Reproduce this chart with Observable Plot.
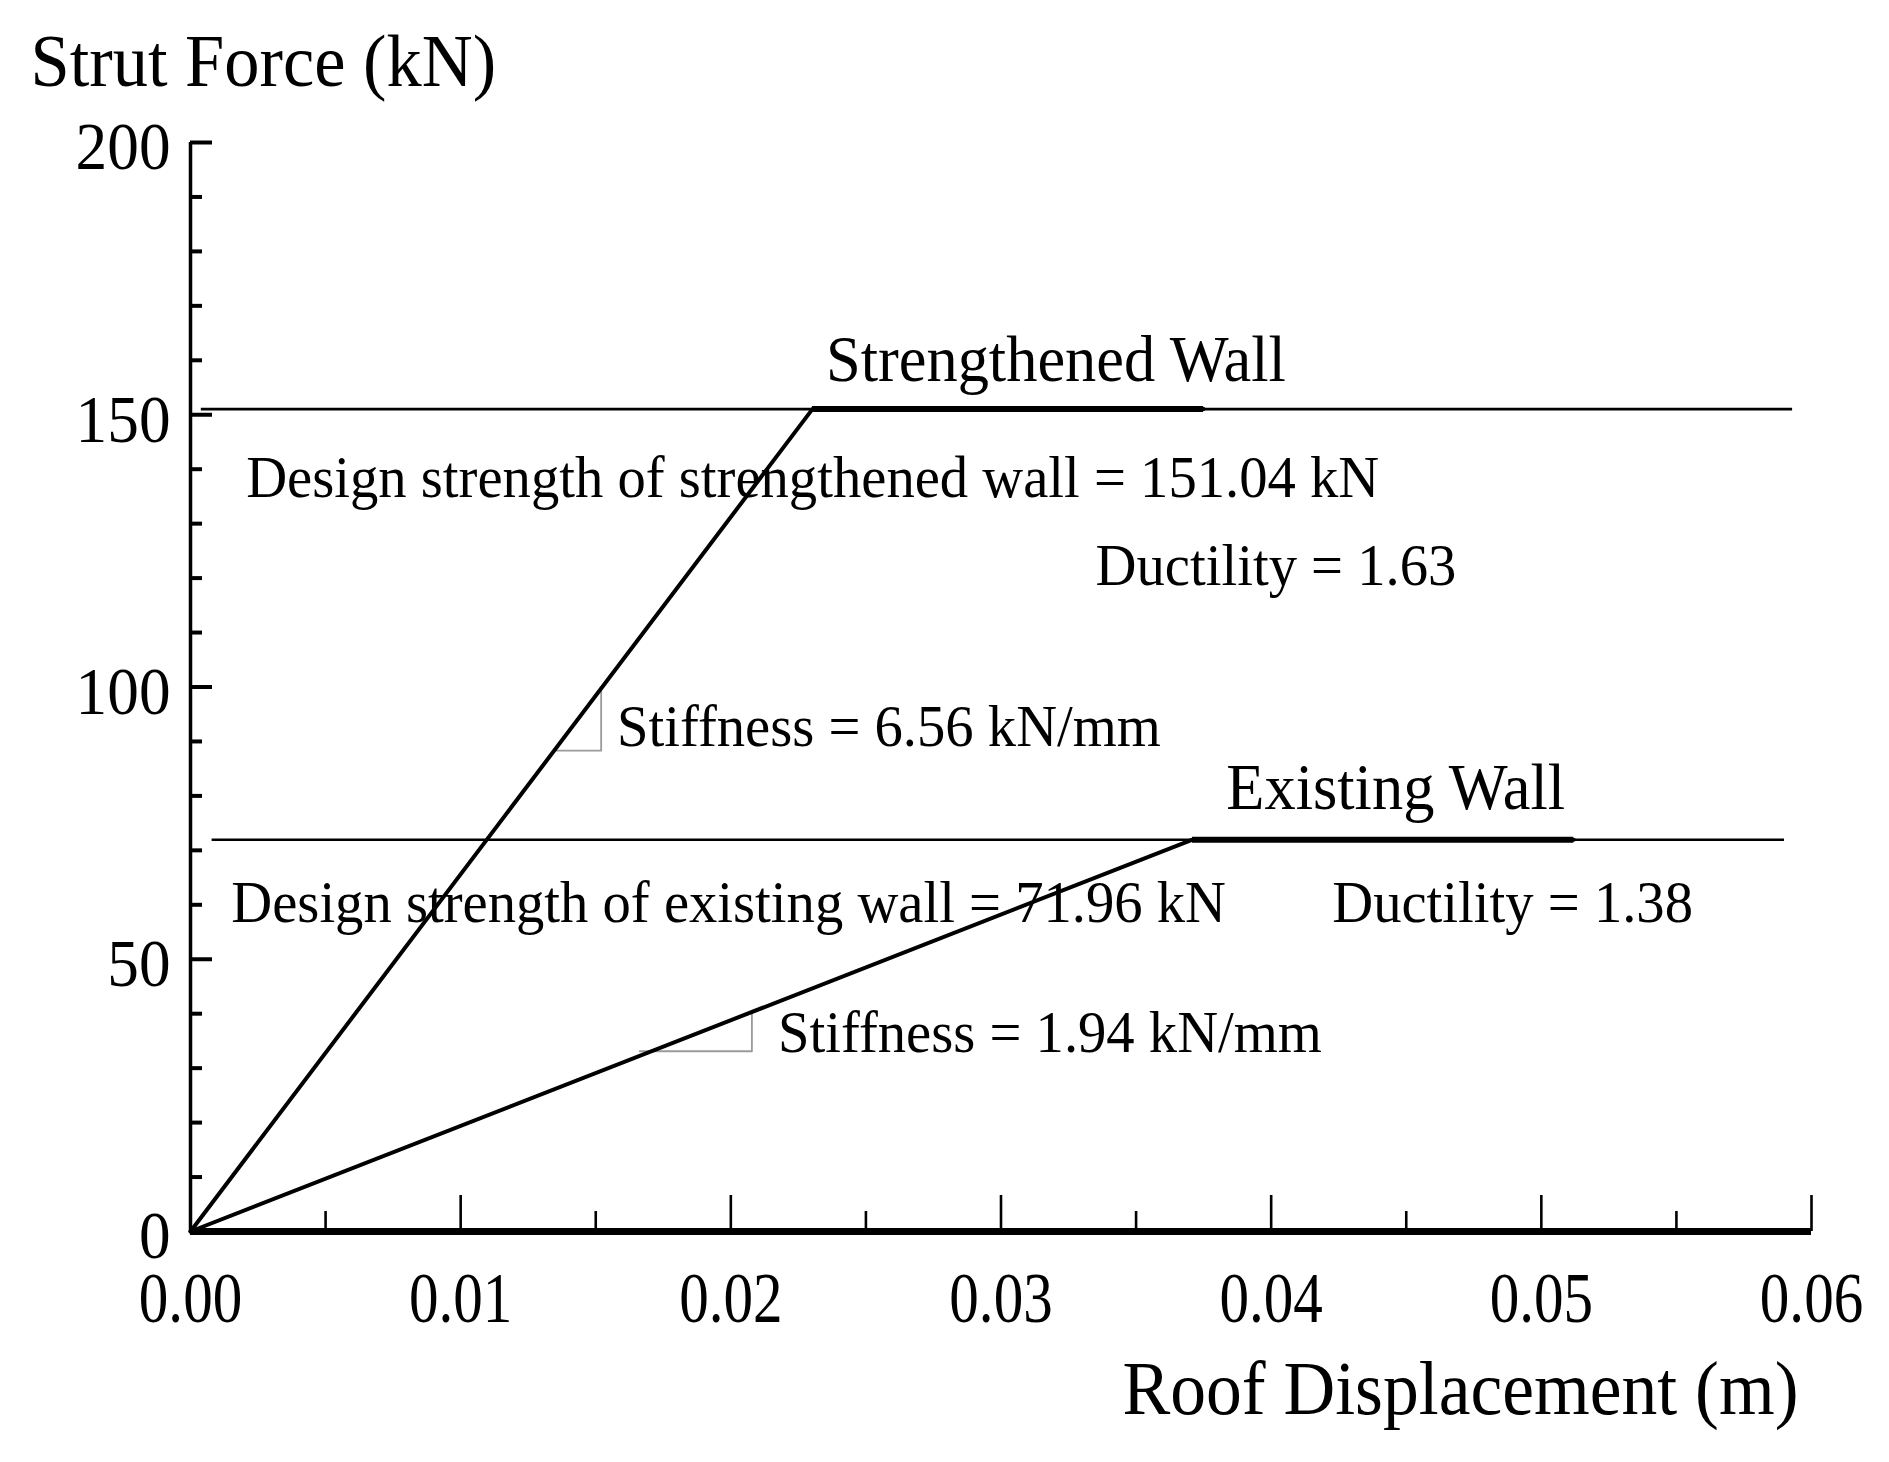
<!DOCTYPE html>
<html>
<head>
<meta charset="utf-8">
<script src="https://cdn.jsdelivr.net/npm/d3@7"></script>
<script src="https://cdn.jsdelivr.net/npm/@observablehq/plot@0.6"></script>
<style>
  html, body { margin: 0; padding: 0; background: #fff; }
  svg { display: block; }
</style>
</head>
<body>
<div id="chart"></div>
<script>
// ---- data ----
const xMajor = [0, 0.01, 0.02, 0.03, 0.04, 0.05, 0.06];
const xMinor = [0.005, 0.015, 0.025, 0.035, 0.045, 0.055];
const yMajor = [0, 50, 100, 150, 200];
const yMinor = [10, 20, 30, 40, 60, 70, 80, 90, 110, 120, 130, 140, 160, 170, 180, 190];

// capacity curves: [displacement (m), force (kN)]
const strengthenedX = [0, 0.02302, 0.0375];
const strengthenedY = [0, 151.04, 151.04];
const existingX = [0, 0.03709, 0.0512];
const existingY = [0, 71.96, 71.96];

// design strength lines
const designLevels = [151.04, 71.96];
const designX1 = [0.0004, 0.0008];
const designX2 = [0.0593, 0.0590];

// slope markers (legs of the right-angle triangles)
const markStrX = [0.01346, 0.0152, 0.0152];
const markStrY = [88.3, 88.3, 99.7];
const markExiX = [0.01663, 0.02078, 0.02078];
const markExiY = [33.1, 33.1, 40.3];

// annotations
const annText = [
  "Strengthened Wall",
  "Design strength of strengthened wall = 151.04 kN",
  "Ductility = 1.63",
  "Stiffness = 6.56 kN/mm",
  "Existing Wall",
  "Design strength of existing wall = 71.96 kN",
  "Ductility = 1.38",
  "Stiffness = 1.94 kN/mm"
];
const annX = [0.02352, 0.00206, 0.0335, 0.01579, 0.03834, 0.00151, 0.04226, 0.02175];
const annY = [160.0, 138.3, 122.2, 92.65, 81.5, 60.4, 60.4, 36.5];
const annSize = [65, 59, 59, 59, 65, 59, 59, 59];

// ---- build tables ----
const zip = (xs, ys) => xs.map((x, i) => ({x, y: ys[i]}));
const strengthened = zip(strengthenedX, strengthenedY);
const existing = zip(existingX, existingY);
const plateaus = [
  {x1: strengthenedX[1], x2: strengthenedX[2], y: strengthenedY[1]},
  {x1: existingX[1], x2: existingX[2], y: existingY[1]}
];
const designLines = designLevels.map((y, i) => ({y, x1: designX1[i], x2: designX2[i]}));
const annotations = annText.map((t, i) => ({t, x: annX[i], y: annY[i], s: annSize[i]}));

const W = 1889, H = 1462;
const mL = 190, mR = 78, mT = 142, mB = 231;
const frameW = W - mL - mR, frameH = H - mT - mB;
const font = "'Liberation Serif', 'Times New Roman', serif";

// horizontal condensing per text group (the reference uses a narrow Times)
const condense = {xlab: 0.82, ylab: 0.93, ytitle: 0.965, xtitle: 0.93, ann: 0.96};

const chart = Plot.plot({
  width: W,
  height: H,
  marginLeft: mL,
  marginRight: mR,
  marginTop: mT,
  marginBottom: mB,
  x: {domain: [0, 0.06], axis: null},
  y: {domain: [0, 200], axis: null},
  style: {fontFamily: font, background: "#fff", color: "#000"},
  marks: [
    // design strength lines
    Plot.ruleY(designLines, {y: "y", x1: "x1", x2: "x2", stroke: "#000", strokeWidth: 2.6}),
    // slope markers
    Plot.line(zip(markStrX, markStrY), {x: "x", y: "y", stroke: "#9a9a9a", strokeWidth: 1.8}),
    Plot.line(zip(markExiX, markExiY), {x: "x", y: "y", stroke: "#9a9a9a", strokeWidth: 1.8}),
    // curves
    Plot.line(strengthened, {x: "x", y: "y", stroke: "#000", strokeWidth: 4}),
    Plot.line(existing, {x: "x", y: "y", stroke: "#000", strokeWidth: 4}),
    Plot.ruleY(plateaus, {y: "y", x1: "x1", x2: "x2", stroke: "#000", strokeWidth: 6}),
    // axes lines
    Plot.ruleX([0], {y1: 0, y2: 200, stroke: "#000", strokeWidth: 3.5}),
    Plot.ruleY([0], {x1: 0, x2: 0.06, stroke: "#000", strokeWidth: 7}),
    // x ticks (pointing up)
    Plot.ruleX(xMajor, {x: d => d, insetTop: frameH - 36, stroke: "#000", strokeWidth: 2.6}),
    Plot.ruleX(xMinor, {x: d => d, insetTop: frameH - 20, stroke: "#000", strokeWidth: 2.6}),
    // y ticks (pointing right)
    Plot.ruleY(yMajor, {y: d => d, insetRight: frameW - 22, stroke: "#000", strokeWidth: 4}),
    Plot.ruleY(yMinor, {y: d => d, insetRight: frameW - 12, stroke: "#000", strokeWidth: 4}),
    // tick labels
    Plot.text(xMajor, {x: d => d, frameAnchor: "bottom", lineAnchor: "middle", dy: 67, text: d => d.toFixed(2), fontSize: 72, fill: "#000", ariaDescription: "xlab"}),
    Plot.text(yMajor, {y: d => d, frameAnchor: "left", lineAnchor: "middle", dx: -20, dy: 5, textAnchor: "end", text: d => String(d), fontSize: 68, fill: "#000", ariaDescription: "ylab"}),
    // axis titles
    Plot.text(["Strut Force (kN)"], {frameAnchor: "top-left", lineAnchor: "middle", dx: -160, dy: -80, textAnchor: "start", text: d => d, fontSize: 73, fill: "#000", ariaDescription: "ytitle"}),
    Plot.text(["Roof Displacement (m)"], {frameAnchor: "bottom-right", lineAnchor: "middle", dx: -13, dy: 158, textAnchor: "end", text: d => d, fontSize: 77, fill: "#000", ariaDescription: "xtitle"}),
    // annotations
    Plot.text(annotations, {x: "x", y: "y", text: "t", fontSize: d => d.s, lineAnchor: "middle", textAnchor: "start", fill: "#000", ariaDescription: "ann"})
  ]
});

document.getElementById("chart").appendChild(chart);

// condense glyphs horizontally
for (const [key, k] of Object.entries(condense)) {
  chart.querySelectorAll(`g[aria-description="${key}"] text`).forEach(t => {
    const len = t.getComputedTextLength();
    if (len > 0) {
      t.setAttribute("textLength", (len * k).toFixed(1));
      t.setAttribute("lengthAdjust", "spacingAndGlyphs");
    }
  });
}
</script>
</body>
</html>
